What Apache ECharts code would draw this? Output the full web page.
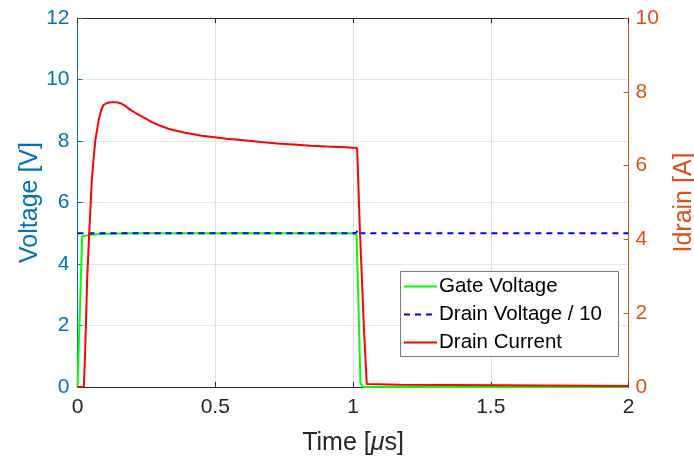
<!DOCTYPE html>
<html>
<head>
<meta charset="utf-8">
<script src="https://cdn.jsdelivr.net/npm/echarts@6/dist/echarts.min.js"></script>
<style>
html,body{margin:0;padding:0;background:#fff;}
#chart{width:694px;height:459px;}
</style>
</head>
<body>
<div id="chart"></div>
<script>
// ---- data (time in µs) ----
const gateTime = [0, 0.002, 0.017, 0.05, 0.1, 0.2, 1.0, 1.013, 1.019, 1.027, 1.035, 2.0];
const gateVoltage = [0, 0, 4.9, 4.95, 4.98, 5.0, 5.0, 4.95, 2.94, 0.13, 0, 0];

const drainVTime = [0, 1.0, 1.012, 1.018, 1.025, 2.0];
const drainVoltageDiv10 = [5.0, 5.0, 5.02, 5.12, 5.0, 5.0];

const currentTime = [0, 0.023, 0.028, 0.035, 0.042, 0.052, 0.057, 0.065, 0.077, 0.086, 0.094, 0.105, 0.115, 0.126, 0.14, 0.156, 0.175, 0.192, 0.215, 0.241, 0.27, 0.301, 0.33, 0.362, 0.39, 0.422, 0.45, 0.483, 0.54, 0.604, 0.665, 0.725, 0.785, 0.846, 0.905, 0.967, 1.015, 1.025, 1.04, 1.05, 1.17, 1.535, 2.0];
const drainCurrent = [0, 0, 1.0, 2.9, 4.1, 5.6, 6.07, 6.7, 7.24, 7.5, 7.64, 7.69, 7.71, 7.72, 7.72, 7.69, 7.61, 7.51, 7.41, 7.30, 7.18, 7.08, 7.00, 6.94, 6.89, 6.85, 6.81, 6.78, 6.73, 6.69, 6.64, 6.60, 6.57, 6.54, 6.52, 6.50, 6.48, 4.26, 1.54, 0.08, 0.06, 0.045, 0.03];

const xTicks = [0, 0.5, 1, 1.5, 2];
const voltageTicks = [0, 2, 4, 6, 8, 10, 12];
const currentTicks = [0, 2, 4, 6, 8, 10];
const seriesNames = ['Gate Voltage', 'Drain Voltage / 10', 'Drain Current'];

const pair = (xs, ys) => xs.map((x, i) => [x, ys[i]]);

const FONT = '"Liberation Sans", Arial, Helvetica, sans-serif';
const BLUE = '#0072BD', ORANGE = '#D95319', DARK = '#262626';

const chart = echarts.init(document.getElementById('chart'), null, {renderer: 'canvas'});
const option = {
  animation: false,
  backgroundColor: '#fff',
  textStyle: {fontFamily: FONT},
  grid: {left: 77.5, right: 65.5, top: 18, bottom: 72, containLabel: false, outerBoundsMode: 'none'},
  xAxis: [{
    type: 'value', min: xTicks[0], max: xTicks[xTicks.length - 1], interval: 0.5,
    position: 'bottom',
    name: 'Time [{i|μ}s]', nameLocation: 'middle', nameGap: 44,
    nameTextStyle: {color: DARK, fontSize: 25, fontFamily: FONT,
      rich: {i: {fontStyle: 'italic', fontSize: 25, color: DARK, fontFamily: FONT}}},
    axisLine: {show: true, onZero: false, lineStyle: {color: DARK, width: 1}},
    axisTick: {show: true, inside: true, length: 5, lineStyle: {color: DARK}},
    axisLabel: {color: DARK, fontSize: 21, margin: 10, fontFamily: FONT,
      formatter: v => String(v)},
    splitLine: {show: true, lineStyle: {color: '#dfdfdf', width: 1}}
  }, {
    type: 'value', min: xTicks[0], max: xTicks[xTicks.length - 1], interval: 0.5,
    position: 'top',
    axisLine: {show: true, onZero: false, lineStyle: {color: DARK, width: 1}},
    axisTick: {show: true, inside: true, length: 5, lineStyle: {color: DARK}},
    axisLabel: {show: false},
    splitLine: {show: false}
  }],
  yAxis: [{
    type: 'value', min: voltageTicks[0], max: voltageTicks[voltageTicks.length - 1], interval: 2,
    position: 'left',
    name: 'Voltage [V]', nameLocation: 'middle', nameGap: 35, nameMoveOverlap: false,
    nameTextStyle: {color: BLUE, fontSize: 25, fontFamily: FONT},
    axisLine: {show: true, onZero: false, lineStyle: {color: BLUE, width: 1}},
    axisTick: {show: true, inside: true, length: 5, lineStyle: {color: BLUE}},
    axisLabel: {color: BLUE, fontSize: 21, margin: 8, fontFamily: FONT},
    splitLine: {show: true, lineStyle: {color: '#d9eaf5', width: 1}}
  }, {
    type: 'value', min: currentTicks[0], max: currentTicks[currentTicks.length - 1], interval: 2,
    position: 'right',
    name: 'Idrain [A]', nameLocation: 'middle', nameGap: 43,
    nameTextStyle: {color: ORANGE, fontSize: 25, fontFamily: FONT},
    axisLine: {show: true, onZero: false, lineStyle: {color: ORANGE, width: 1}},
    axisTick: {show: true, inside: true, length: 5, lineStyle: {color: ORANGE}},
    axisLabel: {color: ORANGE, fontSize: 21, margin: 7, fontFamily: FONT},
    splitLine: {show: false}
  }],
  legend: {
    orient: 'vertical', left: 400, top: 271, z: 20,
    padding: [5, 0, 5, 3], itemGap: 7, itemWidth: 33, itemHeight: 14,
    itemStyle: {opacity: 0},
    textStyle: {color: '#000', fontSize: 20.5, lineHeight: 20, fontFamily: FONT, padding: [0, 0, 0, -3]},
    data: seriesNames
  },
  graphic: [{
    type: 'rect', z: 10,
    shape: {x: 400.5, y: 271.5, width: 218, height: 85},
    style: {fill: '#fff', stroke: '#7a7a7a', lineWidth: 1}
  }],
  series: [{
    name: seriesNames[0], type: 'line', xAxisIndex: 0, yAxisIndex: 0,
    data: pair(gateTime, gateVoltage), symbol: 'none', z: 2,
    lineStyle: {color: '#00ff00', width: 2}, itemStyle: {color: '#00ff00'}
  }, {
    name: seriesNames[1], type: 'line', xAxisIndex: 0, yAxisIndex: 0,
    data: pair(drainVTime, drainVoltageDiv10), symbol: 'none', z: 3,
    lineStyle: {color: '#0000ff', width: 2, type: [6, 5]}, itemStyle: {color: '#0000ff'}
  }, {
    name: seriesNames[2], type: 'line', xAxisIndex: 0, yAxisIndex: 1,
    data: pair(currentTime, drainCurrent), symbol: 'none', z: 4,
    lineStyle: {color: '#ff0000', width: 2}, itemStyle: {color: '#ff0000'}
  }]
};
chart.setOption(option);
</script>
</body>
</html>
